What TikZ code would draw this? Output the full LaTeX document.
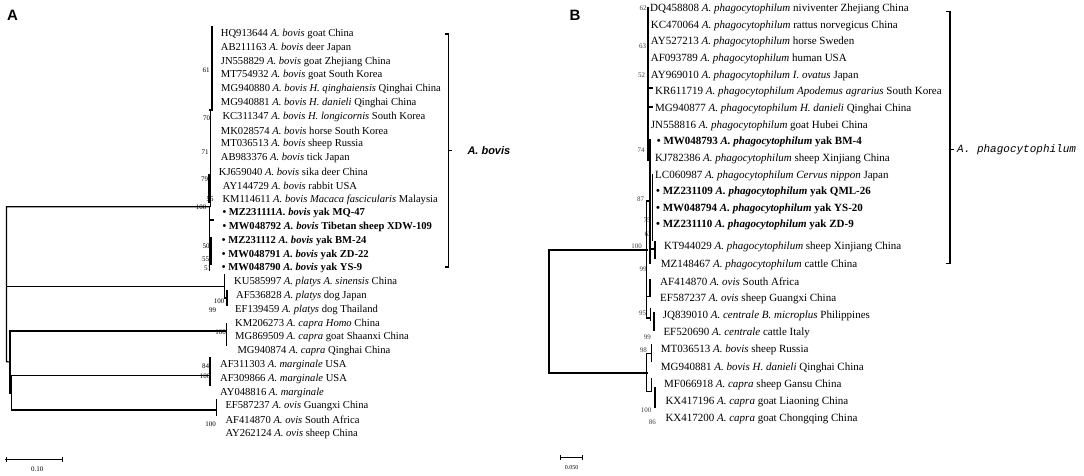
\documentclass[tikz,border=0pt]{standalone}
\usepackage{fontspec}
\setmainfont{Liberation Serif}
\newfontfamily\panelfont{Liberation Sans}
\newfontfamily\cladefont{Liberation Mono}
\usetikzlibrary{positioning}

\begin{document}
\begin{tikzpicture}[x=1pt,y=-1pt,line cap=rect,
    leaf/.style={anchor=west,inner sep=0pt,font=\fontsize{10.6}{12}\selectfont},
    leafb/.style={anchor=west,inner sep=0pt,font=\fontsize{11}{12}\selectfont},
    boot/.style={inner sep=0pt,font=\fontsize{7}{8}\selectfont},
    bootb/.style={inner sep=0pt,font=\fontsize{7}{8}\selectfont,text=black!75},
    branch/.style={line width=1.2pt},
    spine/.style={line width=2.2pt},
    brace/.style={line width=1.1pt}]
  \useasboundingbox (0,0) rectangle (1084,476);

  % panel letters
  \node[font=\panelfont\bfseries\fontsize{15}{16}\selectfont] (pa) at (12.5,15) {A};
  \node[font=\panelfont\bfseries\fontsize{15}{16}\selectfont] (pb) at (575,15) {B};

  % ---- tree A: leaves
  \node[leaf] (a1) at (220.7,34) {HQ913644 \textit{A. bovis} goat China};
  \node[leaf] (a2) at (220.7,47.8) {AB211163 \textit{A. bovis} deer Japan};
  \node[leaf] (a3) at (220.7,61.6) {JN558829 \textit{A. bovis} goat Zhejiang China};
  \node[leaf] (a4) at (220.7,75.4) {MT754932 \textit{A. bovis} goat South Korea};
  \node[leaf] (a5) at (221,89.2) {MG940880 \textit{A. bovis H. qinghaiensis} Qinghai China};
  \node[leaf] (a6) at (220.7,103) {MG940881 \textit{A. bovis H. danieli} Qinghai China};
  \node[leaf] (a7) at (222.3,116.7) {KC311347 \textit{A. bovis H. longicornis} South Korea};
  \node[leaf] (a8) at (220.7,130.5) {MK028574 \textit{A. bovis} horse South Korea};
  \node[leaf] (a9) at (220.7,144.3) {MT036513 \textit{A. bovis} sheep Russia};
  \node[leaf] (a10) at (220.7,158.1) {AB983376 \textit{A. bovis} tick Japan};
  \node[leaf] (a11) at (218.7,171.9) {KJ659040 \textit{A. bovis} sika deer China};
  \node[leaf] (a12) at (222.7,185.7) {AY144729 \textit{A. bovis} rabbit USA};
  \node[leaf] (a13) at (222.3,199.5) {KM114611 \textit{A. bovis Macaca fascicularis} Malaysia};
  \node[leaf,font=\bfseries\fontsize{10.6}{12}\selectfont] (a14) at (222.3,213.3) {• MZ231111\textit{A. bovis} yak MQ-47};
  \node[leaf,font=\bfseries\fontsize{10.6}{12}\selectfont] (a15) at (222.3,227.1) {• MW048792 \textit{A. bovis} Tibetan sheep XDW-109};
  \node[leaf,font=\bfseries\fontsize{10.6}{12}\selectfont] (a16) at (221.7,240.9) {• MZ231112 \textit{A. bovis} yak BM-24};
  \node[leaf,font=\bfseries\fontsize{10.6}{12}\selectfont] (a17) at (221.7,254.6) {• MW048791 \textit{A. bovis} yak ZD-22};
  \node[leaf,font=\bfseries\fontsize{10.6}{12}\selectfont] (a18) at (221.7,268.4) {• MW048790 \textit{A. bovis} yak YS-9};
  \node[leaf] (a19) at (234,282.2) {KU585997 \textit{A. platys A. sinensis} China};
  \node[leaf] (a20) at (236,296) {AF536828 \textit{A. platys} dog Japan};
  \node[leaf] (a21) at (235,309.8) {EF139459 \textit{A. platys} dog Thailand};
  \node[leaf] (a22) at (235,323.6) {KM206273 \textit{A. capra Homo} China};
  \node[leaf] (a23) at (235,337.4) {MG869509 \textit{A. capra} goat Shaanxi China};
  \node[leaf] (a24) at (237.3,351.2) {MG940874 \textit{A. capra} Qinghai China};
  \node[leaf] (a25) at (220,365) {AF311303 \textit{A. marginale} USA};
  \node[leaf] (a26) at (220,378.8) {AF309866 \textit{A. marginale} USA};
  \node[leaf] (a27) at (220,392.5) {AY048816 \textit{A. marginale}};
  \node[leaf] (a28) at (225.3,406.3) {EF587237 \textit{A. ovis} Guangxi China};
  \node[leaf] (a29) at (225.3,420.1) {AF414870 \textit{A. ovis} South Africa};
  \node[leaf] (a30) at (225.3,433.9) {AY262124 \textit{A. ovis} sheep China};

  % bootstrap values A
  \node[boot] (ba1) at (206,70) {61};
  \node[boot] (ba2) at (206.5,118) {70};
  \node[boot] (ba3) at (205,152) {71};
  \node[boot] (ba4) at (204.5,179.5) {79};
  \node[boot] (ba5) at (210,199) {55};
  \node[boot] (ba6) at (201,207) {100};
  \node[boot] (ba7) at (206,246.7) {50};
  \node[boot] (ba8) at (205.7,259.3) {55};
  \node[boot] (ba9) at (207.5,268.3) {51};
  \node[boot] (ba10) at (219,301) {100};
  \node[boot] (ba11) at (212.5,310) {99};
  \node[boot] (ba12) at (220.7,332.3) {100};
  \node[boot] (ba13) at (205.7,366) {84};
  \node[boot] (ba14) at (205,376.7) {100};
  \node[boot] (ba15) at (210.7,424.3) {100};

  % internal nodes A
  \coordinate (ra) at (6.5,206.7);
  \coordinate (ra2) at (6.5,361.7);
  \coordinate (na) at (10,362);
  \coordinate (nb) at (11.5,393);
  \coordinate (bov) at (209.5,206.7);
  \coordinate (pla) at (224.3,286.7);
  \coordinate (cap) at (226.7,331);
  \coordinate (mar) at (210,375.7);
  \coordinate (ovi) at (216.7,410);

  \draw[branch] (bov) -- (ra) -- (ra2) -- (na);
  \draw[branch] (ra |- pla) -- (pla);
  \draw[branch] (na |- cap) -- (na |- nb) -- (nb);
  \draw[branch] (na |- cap) -- (cap);
  \draw[branch] (nb |- mar) -- (nb |- ovi);
  \draw[branch] (nb |- mar) -- (mar);
  \draw[branch] (nb |- ovi) -- (ovi);
  % clades A
  \draw[spine] (212,27) -- (212,110) -- (210.5,110);
  \draw[branch] (210.5,110) -- (210.5,206.7);
  \draw[line width=3pt] (209.8,175) -- (209.8,201);
  \draw[branch] (bov) -- (209.5,270);
  \draw[branch] (209.5,220) -- (213,220);
  \draw[line width=2.6pt] (210.8,238) -- (210.8,264);
  \draw[branch] (224.3,275) -- (224.3,298) -- (227,298);
  \draw[branch] (227,291) -- (227,305);
  \draw[branch] (cap |- a22) -- (cap |- 0,345);
  \draw[branch] (mar |- 0,358) -- (mar |- 0,385);
  \draw[branch] (ovi |- 0,400) -- (ovi |- 0,415);

  % bracket A
  \coordinate (bra) at (448.3,150.7);
  \draw[brace] (445.7,34) -- (bra |- a1) -- (bra |- 0,267) -- (445.7,267);
  \draw[brace] (bra) -- ++(2.7,0);
  \node[anchor=west,inner sep=0pt,font=\panelfont\bfseries\itshape\fontsize{11}{12}\selectfont] (cla) at (467.3,150.7) {A. bovis};

  % scale A
  \coordinate (sa1) at (6,459.3);
  \coordinate (sa2) at (62.3,459.3);
  \draw[branch] (sa1) -- (sa2);
  \draw[line width=0.8pt] (sa1) ++(0,-2) -- ++(0,4) (sa2) ++(0,-2) -- ++(0,4);
  \node[inner sep=0pt,font=\fontsize{7}{8}\selectfont] (la) at (37.3,469) {0.10};

  % ---- tree B: leaves
  \node[leafb] (b1) at (650,9) {DQ458808 \textit{A. phagocytophilum} niviventer Zhejiang China};
  \node[leafb] (b2) at (650.7,25.6) {KC470064 \textit{A. phagocytophilum} rattus norvegicus China};
  \node[leafb] (b3) at (650.7,42.3) {AY527213 \textit{A. phagocytophilum} horse Sweden};
  \node[leafb] (b4) at (650.7,58.9) {AF093789 \textit{A. phagocytophilum} human USA};
  \node[leafb] (b5) at (650.7,75.6) {AY969010 \textit{A. phagocytophilum I. ovatus} Japan};
  \node[leafb] (b6) at (655,92.2) {KR611719 \textit{A. phagocytophilum Apodemus agrarius} South Korea};
  \node[leafb] (b7) at (655,108.8) {MG940877 \textit{A. phagocytophilum H. danieli} Qinghai China};
  \node[leafb] (b8) at (650.7,125.5) {JN558816 \textit{A. phagocytophilum} goat Hubei China};
  \node[leafb,font=\bfseries\fontsize{11}{12}\selectfont] (b9) at (656.7,142.1) {• MW048793 \textit{A. phagocytophilum} yak BM-4};
  \node[leafb] (b10) at (655,158.8) {KJ782386 \textit{A. phagocytophilum} sheep Xinjiang China};
  \node[leafb] (b11) at (655,175.4) {LC060987 \textit{A. phagocytophilum Cervus nippon} Japan};
  \node[leafb,font=\bfseries\fontsize{11}{12}\selectfont] (b12) at (656,192) {• MZ231109 \textit{A. phagocytophilum} yak QML-26};
  \node[leafb,font=\bfseries\fontsize{11}{12}\selectfont] (b13) at (656,208.7) {• MW048794 \textit{A. phagocytophilum} yak YS-20};
  \node[leafb,font=\bfseries\fontsize{11}{12}\selectfont] (b14) at (656,225.3) {• MZ231110 \textit{A. phagocytophilum} yak ZD-9};
  \node[leafb] (b15) at (664,247.3) {KT944029 \textit{A. phagocytophilum} sheep Xinjiang China};
  \node[leafb] (b16) at (660.7,264.5) {MZ148467 \textit{A. phagocytophilum} cattle China};
  \node[leafb] (b17) at (660,281.6) {AF414870 \textit{A. ovis} South Africa};
  \node[leafb] (b18) at (660,298.8) {EF587237 \textit{A. ovis} sheep Guangxi China};
  \node[leafb] (b19) at (662.7,316) {JQ839010 \textit{A. centrale B. microplus} Philippines};
  \node[leafb] (b20) at (663.3,333.2) {EF520690 \textit{A. centrale} cattle Italy};
  \node[leafb] (b21) at (660.7,350.3) {MT036513 \textit{A. bovis} sheep Russia};
  \node[leafb] (b22) at (660.7,367.5) {MG940881 \textit{A. bovis H. danieli} Qinghai China};
  \node[leafb] (b23) at (664,384.7) {MF066918 \textit{A. capra} sheep Gansu China};
  \node[leafb] (b24) at (665.3,401.8) {KX417196 \textit{A. capra} goat Liaoning China};
  \node[leafb] (b25) at (665.3,419) {KX417200 \textit{A. capra} goat Chongqing China};

  % bootstrap values B
  \node[bootb] (bb1) at (643,8.5) {62};
  \node[bootb] (bb2) at (642.7,46) {63};
  \node[bootb] (bb3) at (641.7,75) {52};
  \node[bootb] (bb4) at (641,150) {74};
  \node[bootb] (bb5) at (640.7,199.3) {87};
  \node[bootb] (bb6) at (647,220) {75};
  \node[bootb] (bb7) at (648,234) {62};
  \node[bootb] (bb8) at (636.7,246.7) {100};
  \node[bootb] (bb9) at (643,269.3) {99};
  \node[bootb] (bb10) at (642.7,313.3) {95};
  \node[bootb] (bb11) at (647.3,337.3) {99};
  \node[bootb] (bb12) at (643.3,350) {98};
  \node[bootb] (bb13) at (646,410) {100};
  \node[bootb] (bb14) at (652.3,422.7) {86};

  % internal nodes B
  \coordinate (rb) at (549.3,250);
  \coordinate (rb2) at (549.3,373.3);
  \coordinate (up) at (646.5,250);
  \coordinate (lo) at (646.5,373.3);

  \draw[line width=2pt] (up) -- (rb) -- (rb2) -- (lo);
  % upper group
  \draw[branch] (up |- 0,201) -- (up |- 0,318);
  \draw[branch] (up |- 0,201) -- (650,201);
  \draw[branch] (650,140) -- (650,263);
  \draw[spine] (647.8,8) -- (647.8,160);
  \draw[line width=1.8pt] (649.6,140) -- (649.6,185);
  \draw[branch] (647.8,88) -- (652,88) (647.8,107) -- (652,107);
  \draw[branch] (652.5,175) -- (652.5,240);
  \draw[branch] (650,249) -- (655,249) (655,242) -- (655,258);
  \draw[branch] (up |- 0,296.5) -- (650,296.5) -- (650,280);
  \draw[branch] (up |- 0,318) -- (650.7,318);
  \draw[branch] (650.7,309) -- (650.7,320);
  \draw[line width=2pt] (654,313) -- (654,330);
  % lower group
  \draw[branch] (lo |- 0,353.3) -- (lo |- 0,391.7);
  \draw[branch] (lo |- 0,353.3) -- (651.7,353.3);
  \draw[branch] (651.7,345) -- (651.7,361.7);
  \draw[branch] (lo |- 0,391.7) -- (651.7,391.7) -- (651.7,379);
  \draw[line width=2pt] (655,388) -- (655,406.7);

  % bracket B
  \coordinate (brb) at (950,149.3);
  \draw[brace] (946.7,11.7) -- (brb |- 0,11.7) -- (brb |- 0,263.3) -- (946.7,263.3);
  \draw[brace] (brb) -- ++(3,0);
  \node[anchor=west,inner sep=0pt,font=\cladefont\itshape\fontsize{11}{12}\selectfont] (clb) at (957,149.3) {A. phagocytophilum};

  % scale B
  \coordinate (sb1) at (560.7,457.7);
  \coordinate (sb2) at (582.3,457.7);
  \draw[branch] (sb1) -- (sb2);
  \draw[line width=0.8pt] (sb1) ++(0,-2) -- ++(0,4) (sb2) ++(0,-2) -- ++(0,4);
  \node[inner sep=0pt,font=\fontsize{6}{7}\selectfont] (lb) at (571.7,468) {0.050};
\end{tikzpicture}
\end{document}
